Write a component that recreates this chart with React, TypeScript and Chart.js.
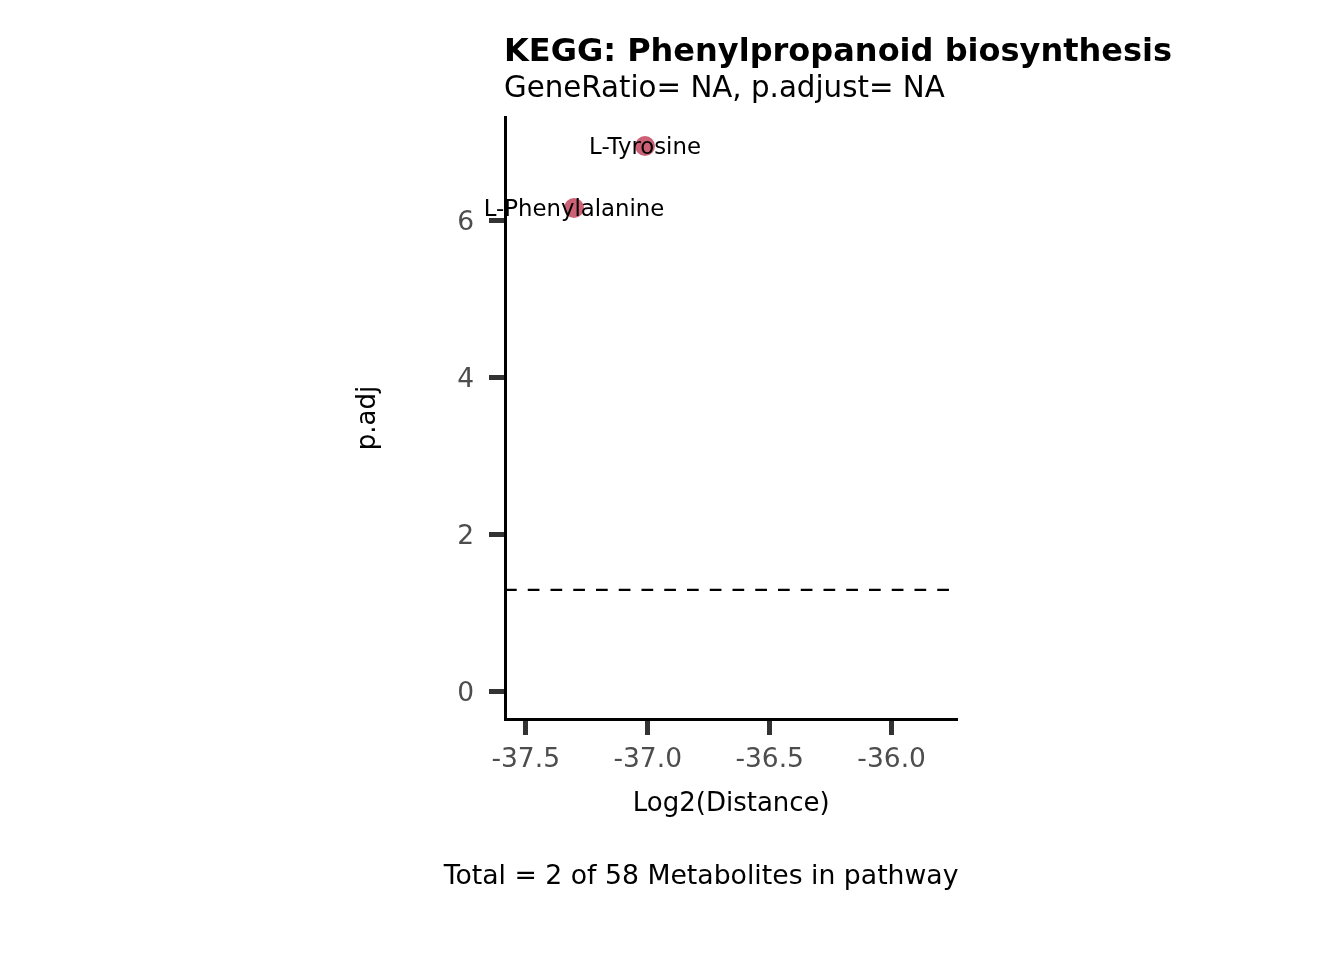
import React, { useEffect, useRef } from "react";
import { Chart, registerables } from "chart.js";

Chart.register(...registerables);

// ---- data ----
const metaboliteNames = ["L-Tyrosine", "L-Phenylalanine"];
const log2Distance = [-37.011, -37.302];
const pAdj = [6.951, 6.162];
const xTickValues = [-37.5, -37.0, -36.5, -36.0];
const yTickValues = [0, 2, 4, 6];
const xRange = [-37.585, -35.73];
const yRange = [-0.344, 7.32];
const significanceLine = 1.30103; // -log10(0.05)
const titleText = "KEGG: Phenylpropanoid biosynthesis";
const subtitleText = "GeneRatio= NA, p.adjust= NA";
const captionText = "Total = 2 of 58 Metabolites in pathway";
const xAxisTitle = "Log2(Distance)";
const yAxisTitle = "p.adj";

const FONT = "'DejaVu Sans', 'Noto Sans', sans-serif";
const POINT_COLOR = "#CC6176";

const annotationPlugin = {
  id: "annotationPlugin",
  afterDatasetsDraw(chart: any) {
    const { ctx, chartArea, scales } = chart;
    const xs = scales.x;
    const ys = scales.y;
    ctx.save();
    // significance dashed line
    const yy = ys.getPixelForValue(significanceLine);
    ctx.setLineDash([11.7, 11.05]);
    ctx.lineWidth = 2.3;
    ctx.strokeStyle = "#000000";
    ctx.beginPath();
    ctx.moveTo(chartArea.left, yy);
    ctx.lineTo(chartArea.right, yy);
    ctx.stroke();
    ctx.setLineDash([]);
    // point labels
    ctx.font = `22.8px ${FONT}`;
    ctx.fillStyle = "#000000";
    ctx.textAlign = "center";
    ctx.textBaseline = "middle";
    metaboliteNames.forEach((name, i) => {
      ctx.fillText(
        name,
        xs.getPixelForValue(log2Distance[i]),
        ys.getPixelForValue(pAdj[i]) + 2.5
      );
    });
    ctx.restore();
  },
  afterDraw(chart: any) {
    const { ctx, chartArea } = chart;
    ctx.save();
    ctx.fillStyle = "#000000";
    ctx.textBaseline = "middle";
    ctx.textAlign = "left";
    ctx.font = `bold 32px ${FONT}`;
    ctx.fillText(titleText, chartArea.left - 1, 52.5);
    ctx.font = `29.3px ${FONT}`;
    ctx.fillText(subtitleText, chartArea.left - 1, 89.5);
    ctx.textAlign = "right";
    ctx.font = `26.7px ${FONT}`;
    ctx.fillText(captionText, chartArea.right + 1, 877);
    ctx.restore();
  },
};

export default function App() {
  const canvasRef = useRef<HTMLCanvasElement | null>(null);

  useEffect(() => {
    const canvas = canvasRef.current;
    if (!canvas) return;
    const chart = new Chart(canvas, {
      type: "scatter",
      data: {
        datasets: [
          {
            data: log2Distance.map((x, i) => ({ x, y: pAdj[i] })),
            backgroundColor: POINT_COLOR,
            borderWidth: 0,
            pointRadius: 10,
            pointHoverRadius: 10,
          },
        ],
      },
      options: {
        animation: false,
        responsive: false,
        devicePixelRatio: 1,
        events: [],
        layout: {
          padding: { left: 350, top: 117, right: 386.5, bottom: 140 },
        },
        plugins: {
          legend: { display: false },
          tooltip: { enabled: false },
          title: { display: false },
        },
        scales: {
          x: {
            type: "linear",
            position: "bottom",
            min: xRange[0],
            max: xRange[1],
            afterBuildTicks: (s: any) => {
              s.ticks = xTickValues.map((v) => ({ value: v }));
            },
            afterFit: (s: any) => {
              s.height = 101;
            },
            ticks: {
              callback: (v: any) => Number(v).toFixed(1),
              font: { family: FONT, size: 26.5 },
              color: "#4D4D4D",
              padding: 9,
              maxRotation: 0,
              autoSkip: false,
            },
            grid: {
              drawOnChartArea: false,
              drawTicks: true,
              tickLength: 16,
              tickWidth: 5,
              tickColor: "#333333",
              color: "#333333",
            },
            border: { display: true, color: "#000000", width: 3 },
            title: {
              display: true,
              text: xAxisTitle,
              font: { family: FONT, size: 26 },
              color: "#000000",
              padding: { top: 0, bottom: 0 },
            },
          },
          y: {
            type: "linear",
            position: "left",
            min: yRange[0],
            max: yRange[1],
            afterBuildTicks: (s: any) => {
              s.ticks = yTickValues.map((v) => ({ value: v }));
            },
            afterFit: (s: any) => {
              s.width = 155;
            },
            ticks: {
              callback: (v: any) => String(v),
              font: { family: FONT, size: 26.5 },
              color: "#4D4D4D",
              padding: 15,
              labelOffset: 2,
              autoSkip: false,
            },
            grid: {
              drawOnChartArea: false,
              drawTicks: true,
              tickLength: 16,
              tickWidth: 5,
              tickColor: "#333333",
              color: "#333333",
            },
            border: { display: true, color: "#000000", width: 3 },
            title: {
              display: true,
              text: yAxisTitle,
              font: { family: FONT, size: 26 },
              color: "#000000",
              padding: { top: 3, bottom: 0 },
            },
          },
        },
      },
      plugins: [annotationPlugin],
    } as any);
    return () => chart.destroy();
  }, []);

  return (
    <div
      style={{
        position: "absolute",
        left: 0,
        top: 0,
        width: 1344,
        height: 960,
        background: "#ffffff",
      }}
    >
      <canvas
        ref={canvasRef}
        width={1344}
        height={960}
        style={{ display: "block", width: 1344, height: 960 }}
      />
    </div>
  );
}
